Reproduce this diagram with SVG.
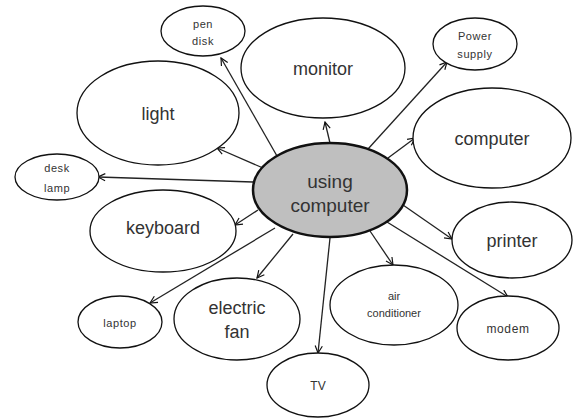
<svg xmlns="http://www.w3.org/2000/svg" width="573" height="420" viewBox="0 0 573 420">
<defs>
<marker id="arr" viewBox="0 0 10 10" refX="9" refY="5" markerWidth="9" markerHeight="9" markerUnits="userSpaceOnUse" orient="auto">
<path d="M1,1 L9,5 L1,9" fill="none" stroke="#111" stroke-width="1.3"/>
</marker>
<style>
.n ellipse{fill:#fff;stroke:#111;stroke-width:1.3}
text{font-family:"Liberation Sans",Arial,sans-serif;fill:#333;text-anchor:middle}
.b{font-size:18px}
.s{font-size:11px;letter-spacing:0.6px}
.e line{stroke:#222;stroke-width:1.3;marker-end:url(#arr)}
</style>
</defs>
<rect width="573" height="420" fill="#fff"/>
<g class="e">
<line x1="277" y1="156" x2="221" y2="58"/>
<line x1="263" y1="168" x2="217" y2="148"/>
<line x1="253" y1="182" x2="98" y2="177"/>
<line x1="330" y1="143" x2="325" y2="122"/>
<line x1="368" y1="149" x2="447" y2="62"/>
<line x1="388" y1="158" x2="415" y2="138"/>
<line x1="258" y1="210" x2="235" y2="225"/>
<line x1="275" y1="228" x2="150" y2="303"/>
<line x1="293" y1="234" x2="257" y2="278"/>
<line x1="330" y1="238" x2="318" y2="353"/>
<line x1="370" y1="231" x2="393" y2="265"/>
<line x1="387" y1="222" x2="508" y2="297"/>
<line x1="403" y1="205" x2="452" y2="239"/>
</g>
<g id="pen-disk" class="n"><ellipse cx="203" cy="31" rx="42" ry="25"/><text class="s" x="203" y="28">pen</text><text class="s" x="203" y="45">disk</text></g>
<g id="light" class="n"><ellipse cx="158" cy="113" rx="81" ry="52"/><text class="b" x="158" y="120">light</text></g>
<g id="monitor" class="n"><ellipse cx="323" cy="68" rx="82" ry="50"/><text class="b" x="323" y="75">monitor</text></g>
<g id="power-supply" class="n"><ellipse cx="475" cy="44" rx="42" ry="26"/><text class="s" x="475" y="40">Power</text><text class="s" x="475" y="58">supply</text></g>
<g id="computer" class="n"><ellipse cx="492" cy="138" rx="79" ry="50"/><text class="b" x="492" y="145">computer</text></g>
<g id="desk-lamp" class="n"><ellipse cx="57" cy="177" rx="42" ry="23"/><text class="s" x="57" y="172">desk</text><text class="s" x="57" y="192">lamp</text></g>
<g id="keyboard" class="n"><ellipse cx="163" cy="231" rx="73" ry="41"/><text class="b" x="163" y="234">keyboard</text></g>
<g id="laptop" class="n"><ellipse cx="120" cy="322" rx="42" ry="26"/><text class="s" x="120" y="327">laptop</text></g>
<g id="electric-fan" class="n"><ellipse cx="237" cy="319" rx="63" ry="41"/><text class="b" x="237" y="314">electric</text><text class="b" x="237" y="338">fan</text></g>
<g id="tv" class="n"><ellipse cx="318" cy="385" rx="51" ry="32"/><text class="s" x="318" y="390" style="font-size:12px;letter-spacing:0">TV</text></g>
<g id="air-conditioner" class="n"><ellipse cx="394" cy="305" rx="64" ry="40"/><text class="s" x="394" y="300" style="letter-spacing:0">air</text><text class="s" x="394" y="317" style="letter-spacing:0">conditioner</text></g>
<g id="modem" class="n"><ellipse cx="508" cy="328" rx="51" ry="32"/><text class="s" x="508" y="333" style="font-size:12px">modem</text></g>
<g id="printer" class="n"><ellipse cx="512" cy="240" rx="60" ry="38"/><text class="b" x="512" y="247">printer</text></g>
<g id="using-computer"><ellipse cx="330" cy="190" rx="77" ry="47" fill="#bfbfbf" stroke="#111" stroke-width="2.5"/><text class="b" x="330" y="188" style="font-size:19px">using</text><text class="b" x="330" y="212" style="font-size:19px">computer</text></g>
</svg>
